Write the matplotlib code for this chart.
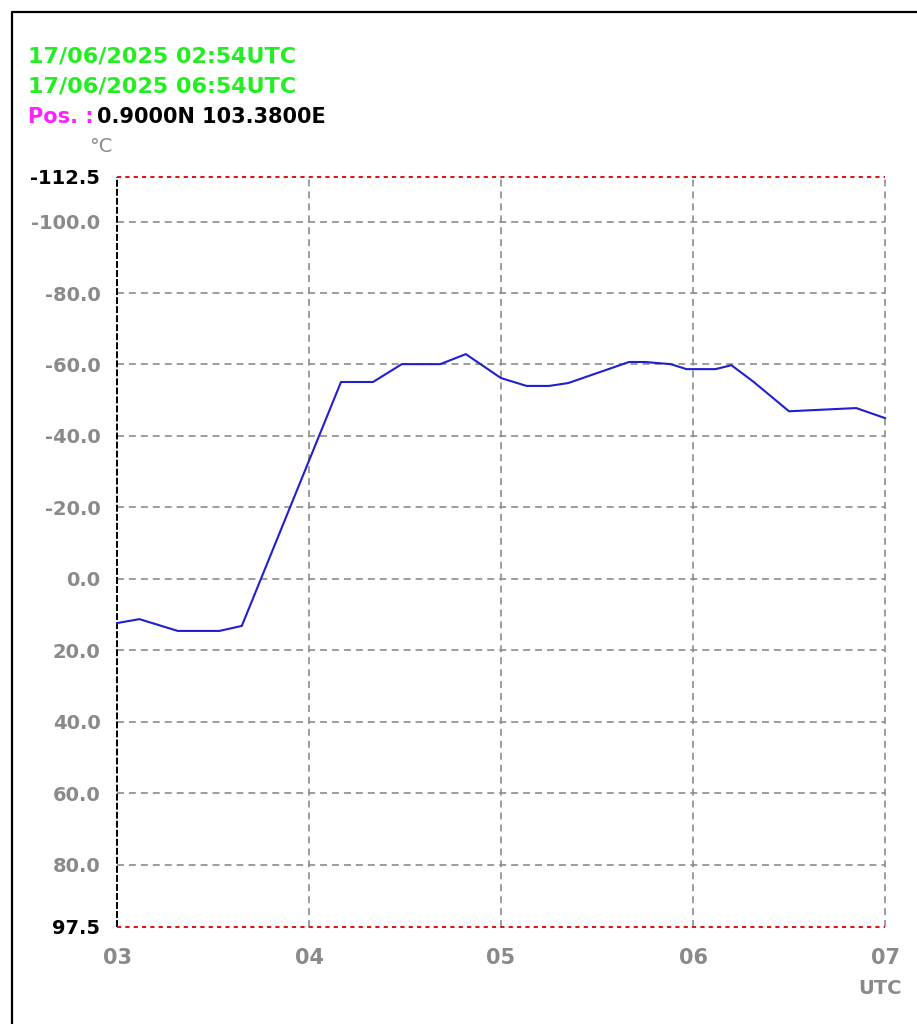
import matplotlib
matplotlib.use("Agg")
import matplotlib.pyplot as plt
from matplotlib.lines import Line2D

# ── Données : température (°C) en fonction de l'heure UTC ────────────────────
TIME_MIN = [0, 7, 19, 32, 36, 39, 70, 80, 89, 101, 109, 120, 128, 135, 141,
            160, 165, 173, 178, 187, 192, 199, 210, 231, 240]
TEMP_C = [12.4, 11.3, 14.6, 14.6, 13.8, 13.2, -55.1, -55.1, -60.1, -60.1,
          -62.9, -56.2, -54.0, -54.0, -54.8, -60.7, -60.7, -60.1, -58.7,
          -58.7, -59.8, -55.1, -46.9, -47.8, -45.0]

Y_TOP, Y_BOTTOM = -112.5, 97.5
Y_TICKS = [-112.5, -100.0, -80.0, -60.0, -40.0, -20.0, 0.0, 20.0, 40.0,
           60.0, 80.0, 97.5]
X_TICKS = [3, 4, 5, 6, 7]
X_LABELS = ["03", "04", "05", "06", "07"]

HEADER_LINES = ["17/06/2025 02:54UTC", "17/06/2025 06:54UTC"]
POS_LABEL = "Pos. :"
POS_VALUE = "0.9000N 103.3800E"

GREY = "#8a8a8a"
GRID = "#8c8c8c"
GREEN = "#22ee22"
MAGENTA = "#ff22ff"
BLUE = "#1f1fd0"
RED = "#dd1111"

W, H = 917, 1024
plt.rcParams["lines.scale_dashes"] = False
plt.rcParams["font.family"] = "DejaVu Sans"

fig = plt.figure(figsize=(W / 100, H / 100), dpi=100)
fig.patch.set_facecolor("white")

# cadre (bords gauche et haut)
fig.add_artist(Line2D([12 / W, 12 / W, 1.0], [0.0, 1 - 12 / H, 1 - 12 / H],
                      transform=fig.transFigure, color="black", lw=1.6))

# zone de tracé : x 117..885, y 177..927 (pixels)
ax = fig.add_axes([117 / W, 1 - 927 / H, 768 / W, 750 / H])
ax.set_xlim(3, 7)
ax.set_ylim(Y_BOTTOM, Y_TOP)
for s in ax.spines.values():
    s.set_visible(False)

# quadrillage
for v in Y_TICKS[1:-1]:
    ax.axhline(v, color=GRID, lw=1.2, ls=(0, (5, 3.6)), zorder=1)
for v in X_TICKS[1:]:
    ax.axvline(v, color=GRID, lw=1.2, ls=(0, (5, 3.6)), zorder=1,
               clip_on=False)
ax.axvline(X_TICKS[0], color="black", lw=1.4, ls=(0, (5, 1.5)), zorder=2,
           clip_on=False)
for v in (Y_TOP, Y_BOTTOM):
    ax.axhline(v, color=RED, lw=1.4, ls=(0, (3, 3)), zorder=3, clip_on=False)

# courbe
hours = [3 + m / 60 for m in TIME_MIN]
ax.plot(hours, TEMP_C, color=BLUE, lw=1.5, zorder=4, clip_on=False)

# graduations
ax.set_yticks(Y_TICKS)
ax.set_yticklabels([f"{v:.1f}" for v in Y_TICKS])
ax.set_xticks(X_TICKS)
ax.set_xticklabels(X_LABELS)
ax.tick_params(axis="both", length=0, labelsize=14, labelcolor=GREY)
ax.tick_params(axis="x", labelsize=15, pad=15)
ax.tick_params(axis="y", pad=12)
for lab in ax.get_yticklabels() + ax.get_xticklabels():
    lab.set_fontweight("bold")
ylabs = ax.get_yticklabels()
ylabs[0].set_color("black")
ylabs[-1].set_color("black")

# en-tête
fig.text(28 / W, 1 - 57 / H, HEADER_LINES[0], color=GREEN, fontsize=16,
         fontweight="bold", va="center", ha="left")
fig.text(28 / W, 1 - 87 / H, HEADER_LINES[1], color=GREEN, fontsize=16,
         fontweight="bold", va="center", ha="left")
fig.text(28 / W, 1 - 117 / H, POS_LABEL, color=MAGENTA, fontsize=15,
         fontweight="bold", va="center", ha="left")
fig.text(97 / W, 1 - 117 / H, POS_VALUE, color="black", fontsize=15,
         fontweight="bold", va="center", ha="left")
fig.text(101 / W, 1 - 147 / H, "°C", color=GREY, fontsize=14,
         va="center", ha="center")
fig.text(880 / W, 1 - 988 / H, "UTC", color=GREY, fontsize=14,
         fontweight="bold", va="center", ha="center")

fig.savefig("out.png", dpi=100)
